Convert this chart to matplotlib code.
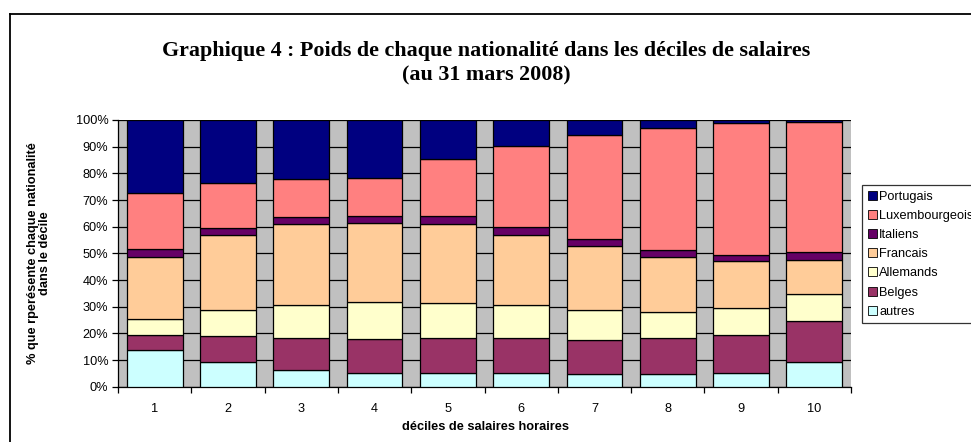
import matplotlib
matplotlib.use("Agg")
import matplotlib.pyplot as plt
from matplotlib.lines import Line2D
from matplotlib.patches import Patch
import numpy as np

deciles = ["1", "2", "3", "4", "5", "6", "7", "8", "9", "10"]
autres = [13.75, 9.1, 6.1, 5.0, 5.0, 5.1, 4.6, 4.6, 5.25, 9.1]
belges = [5.75, 9.8, 12.0, 12.9, 13.1, 13.0, 12.9, 13.8, 14.15, 15.5]
allemands = [5.75, 9.7, 12.65, 13.7, 13.15, 12.4, 11.1, 9.7, 10.0, 10.15]
francais = [23.25, 28.3, 30.15, 29.65, 29.75, 26.25, 24.0, 20.65, 17.7, 12.75]
italiens = [3.1, 2.6, 2.85, 2.65, 2.9, 3.0, 2.9, 2.35, 2.3, 2.9]
luxembourgeois = [20.9, 16.75, 14.15, 14.35, 21.5, 30.5, 38.75, 45.8, 49.5, 48.85]
portugais = [27.5, 23.75, 22.1, 21.75, 14.6, 9.75, 5.75, 3.1, 1.1, 0.75]

series_names = ["autres", "Belges", "Allemands", "Francais", "Italiens",
                "Luxembourgeois", "Portugais"]
series_values = [autres, belges, allemands, francais, italiens,
                 luxembourgeois, portugais]
colors = ["#CCFFFF", "#993366", "#FFFFCC", "#FFCC99", "#660066",
          "#FF8080", "#000080"]

plt.rcParams["font.family"] = ["Liberation Sans", "DejaVu Sans"]

fig = plt.figure(figsize=(9.71, 4.42), dpi=100)
ax = fig.add_axes([118 / 971, 1 - 386.7 / 442, (851 - 118) / 971, (386.7 - 120) / 442])
ax.set_facecolor("#C0C0C0")

x = np.arange(1, len(deciles) + 1)
bottom = np.zeros(len(deciles))
handles = []
for name, vals, col in zip(series_names, series_values, colors):
    v = np.array(vals, dtype=float)
    ax.bar(x, v, width=0.76, bottom=bottom, color=col, edgecolor="black",
           linewidth=0.9, zorder=3, label=name)
    bottom += v
    handles.append(Patch(facecolor=col, edgecolor="black", linewidth=0.6, label=name))

ax.set_xlim(0.5, len(deciles) + 0.5)
ax.set_ylim(0, 100)
ax.set_yticks(np.arange(0, 101, 10))
ax.set_yticklabels([f"{v}%" for v in range(0, 101, 10)], fontsize=9.2)
ax.yaxis.grid(True, color="black", linewidth=0.9, zorder=0)
ax.set_axisbelow(True)

ax.set_xticks(x)
ax.set_xticklabels(deciles, fontsize=9.2)
ax.tick_params(axis="x", which="major", length=0, pad=12)
ax.set_xticks(np.arange(0.5, len(deciles) + 1, 1), minor=True)
ax.tick_params(axis="x", which="minor", length=4, width=0.9, direction="out")
ax.tick_params(axis="y", length=4, width=0.9, direction="out", pad=3)

for s in ["top", "right"]:
    ax.spines[s].set_visible(False)
ax.spines["left"].set_linewidth(0.9)
ax.spines["bottom"].set_linewidth(0.9)

fig.text(485 / 971, 1 - 427 / 442, "déciles de salaires horaires", ha="center", va="center",
         fontsize=9.2, fontweight="bold")
fig.text(39 / 971, 1 - 253 / 442, "% que rperésente chaque nationalité\ndans le décile",
         ha="center", va="center", rotation=90, multialignment="center",
         fontsize=9.2, fontweight="bold", linespacing=1.0)

fig.text(486 / 971, 1 - 51 / 442, "Graphique 4 : Poids de chaque nationalité dans les déciles de salaires",
         ha="center", va="center", fontsize=15.8, fontweight="bold", family="Liberation Serif")
fig.text(486 / 971, 1 - 75 / 442, "(au 31 mars 2008)",
         ha="center", va="center", fontsize=15.8, fontweight="bold", family="Liberation Serif")

leg = fig.legend(handles=handles[::-1], loc="upper left",
                 bbox_to_anchor=(862 / 971, 1 - 185 / 442), fontsize=9.2,
                 frameon=True, fancybox=False, edgecolor="black",
                 handlelength=0.7, handleheight=0.7, handletextpad=0.2,
                 labelspacing=0.56, borderpad=0.45, borderaxespad=0)
leg.get_frame().set_linewidth(0.9)

fig.add_artist(Line2D([9.5 / 971, 1], [1 - 13.5 / 442, 1 - 13.5 / 442],
                      transform=fig.transFigure, color="black", linewidth=1.3))
fig.add_artist(Line2D([9.5 / 971, 9.5 / 971], [0, 1 - 13.5 / 442],
                      transform=fig.transFigure, color="black", linewidth=1.3))

fig.savefig("out.png", dpi=100)
